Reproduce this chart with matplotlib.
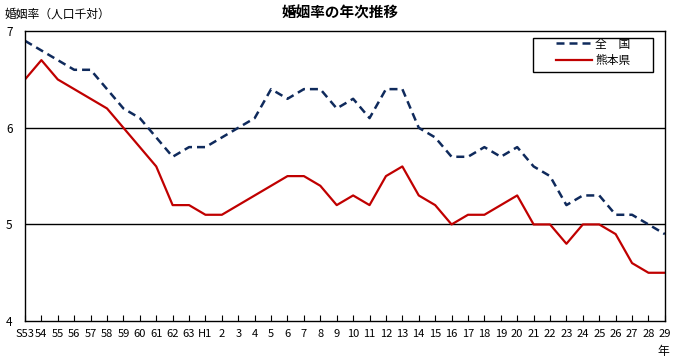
import matplotlib
matplotlib.use("Agg")
import matplotlib.pyplot as plt
from matplotlib.patches import Rectangle

plt.rcParams['font.family'] = ['Noto Sans CJK JP', 'DejaVu Sans']

# 年（昭和53年〜平成29年）
years = ['S53', '54', '55', '56', '57', '58', '59', '60', '61', '62', '63', 'H1'] + \
        [str(i) for i in range(2, 30)]

# 婚姻率（人口千対）
national = [6.9, 6.8, 6.7, 6.6, 6.6, 6.4, 6.2, 6.1, 5.9, 5.7, 5.8, 5.8,
            5.9, 6.0, 6.1, 6.4, 6.3, 6.4, 6.4, 6.2, 6.3, 6.1, 6.4, 6.4,
            6.0, 5.9, 5.7, 5.7, 5.8, 5.7, 5.8, 5.6, 5.5, 5.2, 5.3, 5.3,
            5.1, 5.1, 5.0, 4.9]
kumamoto = [6.5, 6.7, 6.5, 6.4, 6.3, 6.2, 6.0, 5.8, 5.6, 5.2, 5.2, 5.1,
            5.1, 5.2, 5.3, 5.4, 5.5, 5.5, 5.4, 5.2, 5.3, 5.2, 5.5, 5.6,
            5.3, 5.2, 5.0, 5.1, 5.1, 5.2, 5.3, 5.0, 5.0, 4.8, 5.0, 5.0,
            4.9, 4.6, 4.5, 4.5]

x = list(range(len(years)))

fig = plt.figure(figsize=(6.75, 3.62), dpi=100)
ax = fig.add_axes([0.037, 0.113, 0.948, 0.801])

ax.plot(x, national, color='#0F2A5C', linewidth=1.8, linestyle=(0, (3.2, 2.0)), label='全　国')
ax.plot(x, kumamoto, color='#C00000', linewidth=1.6, label='熊本県')

for yv in (5, 6):
    ax.axhline(yv, color='black', linewidth=1.0, zorder=0)

ax.set_xlim(0, len(years) - 1)
ax.set_ylim(4, 7)
ax.set_xticks(x)
ax.set_xticklabels(years, fontsize=8)
ax.set_yticks([4, 5, 6, 7])
ax.set_yticklabels(['4', '5', '6', '7'], fontsize=8.5)
ax.tick_params(axis='x', direction='in', length=4, pad=6)
ax.tick_params(axis='y', length=0, pad=9)
for sp in ax.spines.values():
    sp.set_color('black')
    sp.set_linewidth(1.0)

# legend box drawn separately so it can be wider than the entries
ax.add_patch(Rectangle((0.794, 0.859), 0.187, 0.117, transform=ax.transAxes,
                       facecolor='white', edgecolor='black', linewidth=1.0, zorder=4))
leg = ax.legend(loc='upper left', bbox_to_anchor=(0.825, 0.99), fontsize=8.5,
                frameon=False, handlelength=3.0, borderpad=0.3, borderaxespad=0,
                labelspacing=0.3, handletextpad=0.3)
leg.set_zorder(5)

fig.text(0.504, 0.965, '婚姻率の年次推移', ha='center', va='center', fontsize=10.5, fontweight='bold')
fig.text(0.007, 0.962, '婚姻率（人口千対）', ha='left', va='center', fontsize=8.5)
fig.text(0.983, 0.028, '年', ha='center', va='center', fontsize=8.5)

fig.savefig('out.png', dpi=100)
